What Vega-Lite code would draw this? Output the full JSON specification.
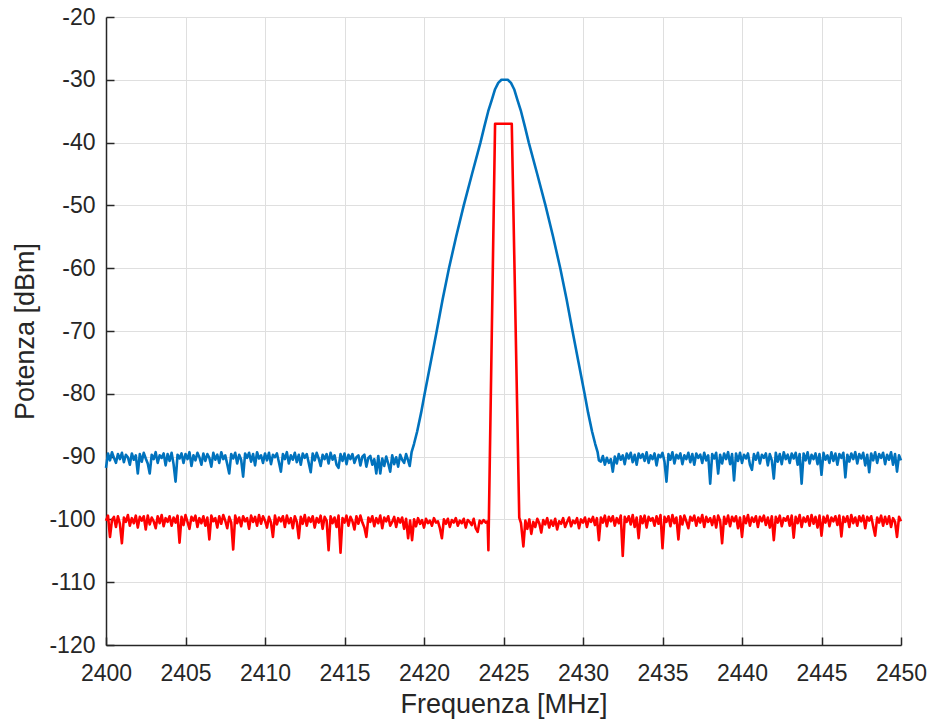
{
  "$schema": "https://vega.github.io/schema/vega-lite/v6.json",
  "width": 795,
  "height": 628,
  "autosize": {"type": "none"},
  "padding": {"left": 106, "top": 17, "right": 27, "bottom": 79},
  "background": "white",
  "config": {"view": {"stroke": null}},
  "datasets": {
    "blue": [
{"f":2400,"p":-91.8},{"f":2400.125,"p":-89.5},{"f":2400.25,"p":-90.6},{"f":2400.375,"p":-89.3},{"f":2400.5,"p":-90.2},{"f":2400.625,"p":-91.0},{"f":2400.75,"p":-89.6},{"f":2400.875,"p":-90.4},
{"f":2401,"p":-89.4},{"f":2401.125,"p":-90.9},{"f":2401.25,"p":-89.7},{"f":2401.375,"p":-90.1},{"f":2401.5,"p":-91.3},{"f":2401.625,"p":-89.5},{"f":2401.75,"p":-90.5},{"f":2401.875,"p":-89.8},
{"f":2402,"p":-92.7},{"f":2402.125,"p":-89.6},{"f":2402.25,"p":-90.8},{"f":2402.375,"p":-89.4},{"f":2402.5,"p":-90.3},{"f":2402.625,"p":-91.1},{"f":2402.75,"p":-92.7},{"f":2402.875,"p":-89.7},
{"f":2403,"p":-90.4},{"f":2403.125,"p":-89.3},{"f":2403.25,"p":-91.0},{"f":2403.375,"p":-89.8},{"f":2403.5,"p":-90.2},{"f":2403.625,"p":-89.5},{"f":2403.75,"p":-91.4},{"f":2403.875,"p":-89.6},
{"f":2404,"p":-90.7},{"f":2404.125,"p":-89.4},{"f":2404.25,"p":-91.2},{"f":2404.375,"p":-94.0},{"f":2404.5,"p":-89.7},{"f":2404.625,"p":-90.3},{"f":2404.75,"p":-89.5},{"f":2404.875,"p":-91.0},
{"f":2405,"p":-89.6},{"f":2405.125,"p":-90.4},{"f":2405.25,"p":-89.3},{"f":2405.375,"p":-91.5},{"f":2405.5,"p":-89.8},{"f":2405.625,"p":-90.6},{"f":2405.75,"p":-89.4},{"f":2405.875,"p":-90.1},
{"f":2406,"p":-91.3},{"f":2406.125,"p":-89.5},{"f":2406.25,"p":-90.7},{"f":2406.375,"p":-89.6},{"f":2406.5,"p":-90.2},{"f":2406.625,"p":-91.6},{"f":2406.75,"p":-89.4},{"f":2406.875,"p":-90.5},
{"f":2407,"p":-89.7},{"f":2407.125,"p":-91.0},{"f":2407.25,"p":-89.3},{"f":2407.375,"p":-90.4},{"f":2407.5,"p":-89.8},{"f":2407.625,"p":-91.2},{"f":2407.75,"p":-92.7},{"f":2407.875,"p":-89.6},
{"f":2408,"p":-90.3},{"f":2408.125,"p":-89.4},{"f":2408.25,"p":-91.1},{"f":2408.375,"p":-89.7},{"f":2408.5,"p":-90.5},{"f":2408.625,"p":-93.2},{"f":2408.75,"p":-89.5},{"f":2408.875,"p":-90.2},
{"f":2409,"p":-89.4},{"f":2409.125,"p":-90.8},{"f":2409.25,"p":-89.6},{"f":2409.375,"p":-91.4},{"f":2409.5,"p":-89.3},{"f":2409.625,"p":-90.3},{"f":2409.75,"p":-89.8},{"f":2409.875,"p":-91.0},
{"f":2410,"p":-89.5},{"f":2410.125,"p":-90.6},{"f":2410.25,"p":-89.4},{"f":2410.375,"p":-91.2},{"f":2410.5,"p":-89.7},{"f":2410.625,"p":-90.1},{"f":2410.75,"p":-89.5},{"f":2410.875,"p":-90.9},
{"f":2411,"p":-92.4},{"f":2411.125,"p":-89.6},{"f":2411.25,"p":-90.4},{"f":2411.375,"p":-89.3},{"f":2411.5,"p":-91.1},{"f":2411.625,"p":-89.8},{"f":2411.75,"p":-90.5},{"f":2411.875,"p":-89.4},
{"f":2412,"p":-90.9},{"f":2412.125,"p":-89.7},{"f":2412.25,"p":-91.3},{"f":2412.375,"p":-89.5},{"f":2412.5,"p":-90.2},{"f":2412.625,"p":-89.6},{"f":2412.75,"p":-91.0},{"f":2412.875,"p":-92.5},
{"f":2413,"p":-89.5},{"f":2413.125,"p":-90.6},{"f":2413.25,"p":-89.4},{"f":2413.375,"p":-90.3},{"f":2413.5,"p":-91.5},{"f":2413.625,"p":-89.7},{"f":2413.75,"p":-90.4},{"f":2413.875,"p":-89.6},
{"f":2414,"p":-91.1},{"f":2414.125,"p":-89.4},{"f":2414.25,"p":-90.5},{"f":2414.375,"p":-89.8},{"f":2414.5,"p":-91.3},{"f":2414.625,"p":-91.8},{"f":2414.75,"p":-89.6},{"f":2414.875,"p":-90.7},
{"f":2415,"p":-89.5},{"f":2415.125,"p":-91.2},{"f":2415.25,"p":-89.7},{"f":2415.375,"p":-90.4},{"f":2415.5,"p":-89.6},{"f":2415.625,"p":-91.0},{"f":2415.75,"p":-90.1},{"f":2415.875,"p":-89.8},
{"f":2416,"p":-91.4},{"f":2416.125,"p":-90.0},{"f":2416.25,"p":-89.7},{"f":2416.375,"p":-91.6},{"f":2416.5,"p":-90.2},{"f":2416.625,"p":-89.9},{"f":2416.75,"p":-91.3},{"f":2416.875,"p":-90.4},
{"f":2417,"p":-92.7},{"f":2417.125,"p":-89.9},{"f":2417.25,"p":-92.7},{"f":2417.375,"p":-90.3},{"f":2417.5,"p":-91.5},{"f":2417.625,"p":-90.0},{"f":2417.75,"p":-91.1},{"f":2417.875,"p":-92.4},
{"f":2418,"p":-89.8},{"f":2418.125,"p":-91.2},{"f":2418.25,"p":-90.1},{"f":2418.375,"p":-91.6},{"f":2418.5,"p":-89.7},{"f":2418.625,"p":-90.5},{"f":2418.75,"p":-91.0},{"f":2418.875,"p":-89.6},
{"f":2419,"p":-90.6},{"f":2419.1,"p":-91.5},
{"f":2419.22,"p":-89.3},{"f":2419.37,"p":-88.0},{"f":2419.57,"p":-86.0},{"f":2419.82,"p":-83.0},{"f":2420.04,"p":-80.0},{"f":2420.42,"p":-75.0},{"f":2420.80,"p":-70.0},{"f":2421.17,"p":-65.0},
{"f":2421.57,"p":-60.0},{"f":2422.02,"p":-55.0},{"f":2422.50,"p":-50.0},{"f":2423.02,"p":-45.0},{"f":2423.55,"p":-40.0},{"f":2423.79,"p":-37.5},{"f":2424.04,"p":-35.0},{"f":2424.25,"p":-33.3},
{"f":2424.47,"p":-31.5},{"f":2424.67,"p":-30.5},{"f":2424.87,"p":-30.0},{"f":2425.27,"p":-30.0},{"f":2425.47,"p":-30.5},{"f":2425.67,"p":-31.5},{"f":2425.89,"p":-33.3},{"f":2426.10,"p":-35.0},
{"f":2426.35,"p":-37.5},{"f":2426.59,"p":-40.0},{"f":2427.12,"p":-45.0},{"f":2427.64,"p":-50.0},{"f":2428.12,"p":-55.0},{"f":2428.57,"p":-60.0},{"f":2428.97,"p":-65.0},{"f":2429.34,"p":-70.0},
{"f":2429.72,"p":-75.0},{"f":2430.10,"p":-80.0},{"f":2430.32,"p":-83.0},{"f":2430.57,"p":-86.0},{"f":2430.77,"p":-88.0},{"f":2430.92,"p":-89.3},{"f":2431.0,"p":-90.6},
{"f":2431.125,"p":-90.8},{"f":2431.25,"p":-89.9},{"f":2431.375,"p":-91.3},{"f":2431.5,"p":-90.2},{"f":2431.625,"p":-91.0},{"f":2431.75,"p":-90.4},{"f":2431.875,"p":-92.4},
{"f":2432,"p":-90.0},{"f":2432.125,"p":-91.1},{"f":2432.25,"p":-89.6},{"f":2432.375,"p":-90.5},{"f":2432.5,"p":-89.8},{"f":2432.625,"p":-91.2},{"f":2432.75,"p":-89.5},{"f":2432.875,"p":-90.3},
{"f":2433,"p":-89.4},{"f":2433.125,"p":-90.9},{"f":2433.25,"p":-89.7},{"f":2433.375,"p":-91.3},{"f":2433.5,"p":-89.5},{"f":2433.625,"p":-90.2},{"f":2433.75,"p":-89.6},{"f":2433.875,"p":-90.7},
{"f":2434,"p":-89.3},{"f":2434.125,"p":-91.0},{"f":2434.25,"p":-89.8},{"f":2434.375,"p":-90.4},{"f":2434.5,"p":-89.5},{"f":2434.625,"p":-91.4},{"f":2434.75,"p":-89.7},{"f":2434.875,"p":-90.1},
{"f":2435,"p":-89.4},{"f":2435.125,"p":-90.8},{"f":2435.25,"p":-94.0},{"f":2435.375,"p":-89.6},{"f":2435.5,"p":-90.5},{"f":2435.625,"p":-89.3},{"f":2435.75,"p":-91.1},{"f":2435.875,"p":-89.7},
{"f":2436,"p":-90.3},{"f":2436.125,"p":-89.5},{"f":2436.25,"p":-91.2},{"f":2436.375,"p":-89.8},{"f":2436.5,"p":-90.4},{"f":2436.625,"p":-89.4},{"f":2436.75,"p":-90.9},{"f":2436.875,"p":-89.6},
{"f":2437,"p":-91.3},{"f":2437.125,"p":-89.5},{"f":2437.25,"p":-90.2},{"f":2437.375,"p":-89.7},{"f":2437.5,"p":-91.0},{"f":2437.625,"p":-89.4},{"f":2437.75,"p":-90.6},{"f":2437.875,"p":-89.8},
{"f":2438,"p":-94.3},{"f":2438.125,"p":-89.6},{"f":2438.25,"p":-90.3},{"f":2438.375,"p":-89.4},{"f":2438.5,"p":-92.7},{"f":2438.625,"p":-89.7},{"f":2438.75,"p":-91.1},{"f":2438.875,"p":-89.5},
{"f":2439,"p":-90.4},{"f":2439.125,"p":-89.3},{"f":2439.25,"p":-91.2},{"f":2439.375,"p":-89.6},{"f":2439.5,"p":-93.8},{"f":2439.625,"p":-89.5},{"f":2439.75,"p":-90.7},{"f":2439.875,"p":-89.4},
{"f":2440,"p":-91.0},{"f":2440.125,"p":-89.7},{"f":2440.25,"p":-90.3},{"f":2440.375,"p":-89.5},{"f":2440.5,"p":-91.3},{"f":2440.625,"p":-92.1},{"f":2440.75,"p":-89.6},{"f":2440.875,"p":-90.5},
{"f":2441,"p":-89.4},{"f":2441.125,"p":-91.1},{"f":2441.25,"p":-89.7},{"f":2441.375,"p":-90.2},{"f":2441.5,"p":-89.5},{"f":2441.625,"p":-91.4},{"f":2441.75,"p":-89.6},{"f":2441.875,"p":-90.6},
{"f":2442,"p":-93.5},{"f":2442.125,"p":-89.4},{"f":2442.25,"p":-90.8},{"f":2442.375,"p":-89.6},{"f":2442.5,"p":-91.2},{"f":2442.625,"p":-89.3},{"f":2442.75,"p":-90.4},{"f":2442.875,"p":-89.7},
{"f":2443,"p":-91.0},{"f":2443.125,"p":-89.5},{"f":2443.25,"p":-90.3},{"f":2443.375,"p":-89.4},{"f":2443.5,"p":-91.3},{"f":2443.625,"p":-89.6},{"f":2443.75,"p":-94.3},{"f":2443.875,"p":-89.5},
{"f":2444,"p":-90.6},{"f":2444.125,"p":-89.3},{"f":2444.25,"p":-91.1},{"f":2444.375,"p":-89.7},{"f":2444.5,"p":-90.4},{"f":2444.625,"p":-89.5},{"f":2444.75,"p":-91.2},{"f":2444.875,"p":-89.6},
{"f":2445,"p":-92.9},{"f":2445.125,"p":-89.4},{"f":2445.25,"p":-90.5},{"f":2445.375,"p":-89.8},{"f":2445.5,"p":-91.0},{"f":2445.625,"p":-89.3},{"f":2445.75,"p":-90.7},{"f":2445.875,"p":-89.5},
{"f":2446,"p":-91.3},{"f":2446.125,"p":-89.6},{"f":2446.25,"p":-90.2},{"f":2446.375,"p":-89.4},{"f":2446.5,"p":-93.3},{"f":2446.625,"p":-89.7},{"f":2446.75,"p":-90.8},{"f":2446.875,"p":-89.5},
{"f":2447,"p":-90.4},{"f":2447.125,"p":-89.3},{"f":2447.25,"p":-91.1},{"f":2447.375,"p":-89.6},{"f":2447.5,"p":-90.3},{"f":2447.625,"p":-89.4},{"f":2447.75,"p":-91.4},{"f":2447.875,"p":-89.7},
{"f":2448,"p":-92.5},{"f":2448.125,"p":-89.5},{"f":2448.25,"p":-90.6},{"f":2448.375,"p":-89.3},{"f":2448.5,"p":-91.0},{"f":2448.625,"p":-89.6},{"f":2448.75,"p":-90.2},{"f":2448.875,"p":-89.4},
{"f":2449,"p":-91.2},{"f":2449.125,"p":-89.7},{"f":2449.25,"p":-90.5},{"f":2449.375,"p":-89.3},{"f":2449.5,"p":-91.3},{"f":2449.625,"p":-89.6},{"f":2449.75,"p":-92.4},{"f":2449.875,"p":-89.8},
{"f":2450,"p":-90.6}
    ],
    "red": [
{"f":2400,"p":-100.2},{"f":2400.125,"p":-99.4},{"f":2400.25,"p":-102.8},{"f":2400.375,"p":-100.1},{"f":2400.5,"p":-99.6},{"f":2400.625,"p":-101.2},{"f":2400.75,"p":-99.5},{"f":2400.875,"p":-100.7},
{"f":2401,"p":-103.8},{"f":2401.125,"p":-99.7},{"f":2401.25,"p":-100.4},{"f":2401.375,"p":-99.3},{"f":2401.5,"p":-101.0},{"f":2401.625,"p":-99.8},{"f":2401.75,"p":-100.6},{"f":2401.875,"p":-99.4},
{"f":2402,"p":-101.3},{"f":2402.125,"p":-99.6},{"f":2402.25,"p":-100.2},{"f":2402.375,"p":-99.5},{"f":2402.5,"p":-101.6},{"f":2402.625,"p":-99.4},{"f":2402.75,"p":-100.8},{"f":2402.875,"p":-99.7},
{"f":2403,"p":-100.3},{"f":2403.125,"p":-101.4},{"f":2403.25,"p":-99.5},{"f":2403.375,"p":-100.6},{"f":2403.5,"p":-99.3},{"f":2403.625,"p":-101.1},{"f":2403.75,"p":-99.8},{"f":2403.875,"p":-100.4},
{"f":2404,"p":-99.5},{"f":2404.125,"p":-101.0},{"f":2404.25,"p":-99.7},{"f":2404.375,"p":-100.5},{"f":2404.5,"p":-99.4},{"f":2404.625,"p":-103.7},{"f":2404.75,"p":-99.6},{"f":2404.875,"p":-100.9},
{"f":2405,"p":-99.3},{"f":2405.125,"p":-100.4},{"f":2405.25,"p":-101.5},{"f":2405.375,"p":-99.6},{"f":2405.5,"p":-100.2},{"f":2405.625,"p":-99.4},{"f":2405.75,"p":-101.2},{"f":2405.875,"p":-99.8},
{"f":2406,"p":-100.6},{"f":2406.125,"p":-99.5},{"f":2406.25,"p":-101.0},{"f":2406.375,"p":-99.7},{"f":2406.5,"p":-103.2},{"f":2406.625,"p":-99.4},{"f":2406.75,"p":-100.3},{"f":2406.875,"p":-99.8},
{"f":2407,"p":-101.3},{"f":2407.125,"p":-99.5},{"f":2407.25,"p":-100.7},{"f":2407.375,"p":-99.3},{"f":2407.5,"p":-100.2},{"f":2407.625,"p":-101.4},{"f":2407.75,"p":-99.6},{"f":2407.875,"p":-100.5},
{"f":2408,"p":-104.8},{"f":2408.125,"p":-99.4},{"f":2408.25,"p":-100.6},{"f":2408.375,"p":-99.7},{"f":2408.5,"p":-101.1},{"f":2408.625,"p":-99.5},{"f":2408.75,"p":-100.3},{"f":2408.875,"p":-99.8},
{"f":2409,"p":-101.5},{"f":2409.125,"p":-99.4},{"f":2409.25,"p":-100.4},{"f":2409.375,"p":-99.6},{"f":2409.5,"p":-101.0},{"f":2409.625,"p":-99.3},{"f":2409.75,"p":-100.7},{"f":2409.875,"p":-99.5},
{"f":2410,"p":-100.2},{"f":2410.125,"p":-101.3},{"f":2410.25,"p":-99.6},{"f":2410.375,"p":-100.5},{"f":2410.5,"p":-102.8},{"f":2410.625,"p":-99.4},{"f":2410.75,"p":-100.8},{"f":2410.875,"p":-99.7},
{"f":2411,"p":-100.3},{"f":2411.125,"p":-99.5},{"f":2411.25,"p":-101.2},{"f":2411.375,"p":-99.4},{"f":2411.5,"p":-100.6},{"f":2411.625,"p":-99.8},{"f":2411.75,"p":-101.4},{"f":2411.875,"p":-99.5},
{"f":2412,"p":-100.4},{"f":2412.125,"p":-103.0},{"f":2412.25,"p":-99.6},{"f":2412.375,"p":-100.7},{"f":2412.5,"p":-99.3},{"f":2412.625,"p":-101.0},{"f":2412.75,"p":-99.7},{"f":2412.875,"p":-100.4},
{"f":2413,"p":-99.5},{"f":2413.125,"p":-101.3},{"f":2413.25,"p":-99.8},{"f":2413.375,"p":-100.5},{"f":2413.5,"p":-99.4},{"f":2413.625,"p":-101.5},{"f":2413.75,"p":-99.6},{"f":2413.875,"p":-100.2},
{"f":2414,"p":-104.9},{"f":2414.125,"p":-99.5},{"f":2414.25,"p":-100.6},{"f":2414.375,"p":-99.7},{"f":2414.5,"p":-101.2},{"f":2414.625,"p":-99.4},{"f":2414.75,"p":-105.3},{"f":2414.875,"p":-99.8},
{"f":2415,"p":-100.5},{"f":2415.125,"p":-99.4},{"f":2415.25,"p":-101.0},{"f":2415.375,"p":-99.6},{"f":2415.5,"p":-100.3},{"f":2415.625,"p":-101.6},{"f":2415.75,"p":-99.5},{"f":2415.875,"p":-100.7},
{"f":2416,"p":-99.4},{"f":2416.125,"p":-100.5},{"f":2416.25,"p":-101.3},{"f":2416.375,"p":-102.8},{"f":2416.5,"p":-99.7},{"f":2416.625,"p":-100.4},{"f":2416.75,"p":-99.5},{"f":2416.875,"p":-101.1},
{"f":2417,"p":-99.8},{"f":2417.125,"p":-100.6},{"f":2417.25,"p":-99.4},{"f":2417.375,"p":-101.4},{"f":2417.5,"p":-99.7},{"f":2417.625,"p":-100.3},{"f":2417.75,"p":-99.5},{"f":2417.875,"p":-101.0},
{"f":2418,"p":-100.4},{"f":2418.125,"p":-99.6},{"f":2418.25,"p":-101.2},{"f":2418.375,"p":-99.8},{"f":2418.5,"p":-100.5},{"f":2418.625,"p":-99.7},{"f":2418.75,"p":-101.5},{"f":2418.875,"p":-99.9},
{"f":2419,"p":-103.0},{"f":2419.125,"p":-100.2},{"f":2419.25,"p":-103.3},{"f":2419.375,"p":-100.0},{"f":2419.5,"p":-101.1},{"f":2419.625,"p":-99.8},{"f":2419.75,"p":-100.7},{"f":2419.875,"p":-100.1},
{"f":2420,"p":-101.3},{"f":2420.125,"p":-99.9},{"f":2420.25,"p":-100.6},{"f":2420.375,"p":-100.2},{"f":2420.5,"p":-101.0},{"f":2420.625,"p":-99.8},{"f":2420.75,"p":-100.5},{"f":2420.875,"p":-100.3},
{"f":2421,"p":-101.4},{"f":2421.125,"p":-103.0},{"f":2421.25,"p":-100.0},{"f":2421.375,"p":-100.7},{"f":2421.5,"p":-99.9},{"f":2421.625,"p":-101.2},{"f":2421.75,"p":-100.1},{"f":2421.875,"p":-100.5},
{"f":2422,"p":-99.8},{"f":2422.125,"p":-101.0},{"f":2422.25,"p":-100.2},{"f":2422.375,"p":-100.6},{"f":2422.5,"p":-99.9},{"f":2422.625,"p":-101.3},{"f":2422.75,"p":-100.1},{"f":2422.875,"p":-100.4},
{"f":2423,"p":-100.9},{"f":2423.125,"p":-99.9},{"f":2423.25,"p":-101.4},{"f":2423.375,"p":-102.0},{"f":2423.5,"p":-100.2},{"f":2423.625,"p":-100.6},{"f":2423.75,"p":-100.1},{"f":2423.875,"p":-100.5},
{"f":2424,"p":-100.3},{"f":2424.05,"p":-104.9},{"f":2424.47,"p":-37.0},{"f":2425.52,"p":-37.0},{"f":2425.99,"p":-99.7},{"f":2426.1,"p":-100.6},{"f":2426.25,"p":-104.3},
{"f":2426.375,"p":-100.2},{"f":2426.5,"p":-101.5},{"f":2426.625,"p":-100.0},{"f":2426.75,"p":-102.3},{"f":2426.875,"p":-100.4},
{"f":2427,"p":-101.2},{"f":2427.125,"p":-99.9},{"f":2427.25,"p":-100.6},{"f":2427.375,"p":-102.1},{"f":2427.5,"p":-100.1},{"f":2427.625,"p":-100.8},{"f":2427.75,"p":-99.8},{"f":2427.875,"p":-101.3},
{"f":2428,"p":-100.2},{"f":2428.125,"p":-101.0},{"f":2428.25,"p":-99.9},{"f":2428.375,"p":-101.6},{"f":2428.5,"p":-100.3},{"f":2428.625,"p":-100.7},{"f":2428.75,"p":-99.8},{"f":2428.875,"p":-101.2},
{"f":2429,"p":-100.4},{"f":2429.125,"p":-99.7},{"f":2429.25,"p":-101.1},{"f":2429.375,"p":-100.2},{"f":2429.5,"p":-100.6},{"f":2429.625,"p":-99.8},{"f":2429.75,"p":-101.4},{"f":2429.875,"p":-100.0},
{"f":2430,"p":-100.5},{"f":2430.125,"p":-99.7},{"f":2430.25,"p":-101.2},{"f":2430.375,"p":-99.9},{"f":2430.5,"p":-100.4},{"f":2430.625,"p":-99.6},{"f":2430.75,"p":-100.9},{"f":2430.875,"p":-99.8},
{"f":2431,"p":-103.3},{"f":2431.125,"p":-99.7},{"f":2431.25,"p":-100.5},{"f":2431.375,"p":-99.4},{"f":2431.5,"p":-101.1},{"f":2431.625,"p":-99.6},{"f":2431.75,"p":-100.3},{"f":2431.875,"p":-99.5},
{"f":2432,"p":-101.0},{"f":2432.125,"p":-99.8},{"f":2432.25,"p":-100.6},{"f":2432.375,"p":-99.4},{"f":2432.5,"p":-105.8},{"f":2432.625,"p":-99.6},{"f":2432.75,"p":-100.4},{"f":2432.875,"p":-99.5},
{"f":2433,"p":-100.8},{"f":2433.125,"p":-99.3},{"f":2433.25,"p":-101.2},{"f":2433.375,"p":-99.7},{"f":2433.5,"p":-103.0},{"f":2433.625,"p":-99.5},{"f":2433.75,"p":-100.6},{"f":2433.875,"p":-99.4},
{"f":2434,"p":-101.3},{"f":2434.125,"p":-99.6},{"f":2434.25,"p":-100.2},{"f":2434.375,"p":-99.8},{"f":2434.5,"p":-101.0},{"f":2434.625,"p":-99.5},{"f":2434.75,"p":-100.7},{"f":2434.875,"p":-99.3},
{"f":2435,"p":-104.6},{"f":2435.125,"p":-99.6},{"f":2435.25,"p":-100.4},{"f":2435.375,"p":-99.5},{"f":2435.5,"p":-101.1},{"f":2435.625,"p":-99.3},{"f":2435.75,"p":-100.6},{"f":2435.875,"p":-99.7},
{"f":2436,"p":-103.2},{"f":2436.125,"p":-99.5},{"f":2436.25,"p":-100.8},{"f":2436.375,"p":-99.4},{"f":2436.5,"p":-100.3},{"f":2436.625,"p":-101.4},{"f":2436.75,"p":-99.6},{"f":2436.875,"p":-100.2},
{"f":2437,"p":-99.4},{"f":2437.125,"p":-101.0},{"f":2437.25,"p":-99.7},{"f":2437.375,"p":-100.5},{"f":2437.5,"p":-99.3},{"f":2437.625,"p":-101.2},{"f":2437.75,"p":-99.6},{"f":2437.875,"p":-100.4},
{"f":2438,"p":-99.8},{"f":2438.125,"p":-100.9},{"f":2438.25,"p":-99.5},{"f":2438.375,"p":-101.3},{"f":2438.5,"p":-99.4},{"f":2438.625,"p":-100.2},{"f":2438.75,"p":-103.8},{"f":2438.875,"p":-99.6},
{"f":2439,"p":-100.7},{"f":2439.125,"p":-99.4},{"f":2439.25,"p":-101.1},{"f":2439.375,"p":-99.6},{"f":2439.5,"p":-100.3},{"f":2439.625,"p":-99.5},{"f":2439.75,"p":-101.4},{"f":2439.875,"p":-99.7},
{"f":2440,"p":-102.8},{"f":2440.125,"p":-99.5},{"f":2440.25,"p":-100.6},{"f":2440.375,"p":-99.3},{"f":2440.5,"p":-101.0},{"f":2440.625,"p":-99.7},{"f":2440.75,"p":-100.4},{"f":2440.875,"p":-99.5},
{"f":2441,"p":-101.2},{"f":2441.125,"p":-99.6},{"f":2441.25,"p":-100.3},{"f":2441.375,"p":-99.4},{"f":2441.5,"p":-100.9},{"f":2441.625,"p":-99.7},{"f":2441.75,"p":-101.3},{"f":2441.875,"p":-99.5},
{"f":2442,"p":-103.3},{"f":2442.125,"p":-99.6},{"f":2442.25,"p":-100.5},{"f":2442.375,"p":-99.4},{"f":2442.5,"p":-101.1},{"f":2442.625,"p":-99.8},{"f":2442.75,"p":-100.2},{"f":2442.875,"p":-99.5},
{"f":2443,"p":-101.0},{"f":2443.125,"p":-99.4},{"f":2443.25,"p":-102.9},{"f":2443.375,"p":-99.6},{"f":2443.5,"p":-100.6},{"f":2443.625,"p":-99.3},{"f":2443.75,"p":-101.2},{"f":2443.875,"p":-99.7},
{"f":2444,"p":-100.4},{"f":2444.125,"p":-99.5},{"f":2444.25,"p":-101.0},{"f":2444.375,"p":-99.3},{"f":2444.5,"p":-100.7},{"f":2444.625,"p":-99.6},{"f":2444.75,"p":-101.3},{"f":2444.875,"p":-99.4},
{"f":2445,"p":-102.6},{"f":2445.125,"p":-99.6},{"f":2445.25,"p":-100.5},{"f":2445.375,"p":-99.4},{"f":2445.5,"p":-101.1},{"f":2445.625,"p":-99.7},{"f":2445.75,"p":-100.3},{"f":2445.875,"p":-99.5},
{"f":2446,"p":-100.9},{"f":2446.125,"p":-99.4},{"f":2446.25,"p":-102.7},{"f":2446.375,"p":-99.6},{"f":2446.5,"p":-100.4},{"f":2446.625,"p":-99.5},{"f":2446.75,"p":-101.2},{"f":2446.875,"p":-99.3},
{"f":2447,"p":-100.6},{"f":2447.125,"p":-99.7},{"f":2447.25,"p":-101.0},{"f":2447.375,"p":-99.5},{"f":2447.5,"p":-100.3},{"f":2447.625,"p":-99.4},{"f":2447.75,"p":-101.4},{"f":2447.875,"p":-99.6},
{"f":2448,"p":-100.2},{"f":2448.125,"p":-99.5},{"f":2448.25,"p":-101.1},{"f":2448.375,"p":-102.6},{"f":2448.5,"p":-99.7},{"f":2448.625,"p":-100.5},{"f":2448.75,"p":-99.4},{"f":2448.875,"p":-101.0},
{"f":2449,"p":-99.6},{"f":2449.125,"p":-100.7},{"f":2449.25,"p":-99.5},{"f":2449.375,"p":-101.2},{"f":2449.5,"p":-99.8},{"f":2449.625,"p":-100.4},{"f":2449.75,"p":-102.8},{"f":2449.875,"p":-99.6},
{"f":2450,"p":-100.3}
    ]
  },
  "encoding": {
    "x": {
      "field": "f", "type": "quantitative",
      "scale": {"domain": [2400, 2450], "nice": false, "zero": false},
      "axis": {
        "title": "Frequenza [MHz]",
        "values": [2400, 2405, 2410, 2415, 2420, 2425, 2430, 2435, 2440, 2445, 2450],
        "labelExpr": "toString(datum.value)",
        "grid": true, "gridColor": "#dfdfdf", "gridWidth": 1,
        "domainColor": "#262626", "domainWidth": 1.5,
        "tickColor": "#262626", "tickWidth": 1.5, "tickSize": -8,
        "labelFont": "Liberation Sans", "labelFontSize": 23, "labelColor": "#262626", "labelPadding": 25,
        "labelFlush": false, "labelOverlap": false,
        "titleFont": "Liberation Sans", "titleFontSize": 27, "titleFontWeight": "normal", "titleColor": "#262626", "titlePadding": 6
      }
    },
    "y": {
      "field": "p", "type": "quantitative",
      "scale": {"domain": [-120, -20], "nice": false, "zero": false},
      "axis": {
        "title": "Potenza [dBm]",
        "values": [-120, -110, -100, -90, -80, -70, -60, -50, -40, -30, -20],
        "labelExpr": "toString(datum.value)",
        "grid": true, "gridColor": "#dfdfdf", "gridWidth": 1,
        "domainColor": "#262626", "domainWidth": 1.5,
        "tickColor": "#262626", "tickWidth": 1.5, "tickSize": -8,
        "labelFont": "Liberation Sans", "labelFontSize": 23, "labelColor": "#262626", "labelPadding": 19,
        "labelFlush": false, "labelOverlap": false,
        "titleFont": "Liberation Sans", "titleFontSize": 27, "titleFontWeight": "normal", "titleColor": "#262626", "titlePadding": 9
      }
    }
  },
  "layer": [
    {
      "data": {"name": "blue"},
      "mark": {"type": "line", "color": "#0072BD", "strokeWidth": 2.6, "strokeJoin": "round"}
    },
    {
      "data": {"name": "red"},
      "mark": {"type": "line", "color": "#FF0000", "strokeWidth": 2.6, "strokeJoin": "round"}
    }
  ]
}
